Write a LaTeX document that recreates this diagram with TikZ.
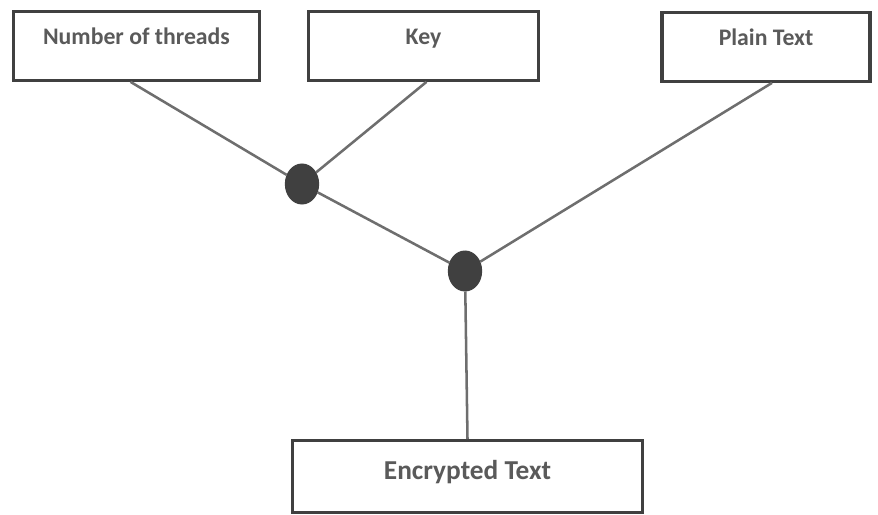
\documentclass[tikz,border=0pt]{standalone}
\usepackage{fontspec}
\setmainfont{Carlito}
\usetikzlibrary{shapes.geometric}
\definecolor{boxline}{RGB}{64,64,64}
\definecolor{wireline}{RGB}{110,110,110}
\definecolor{labeltext}{RGB}{90,90,90}
\tikzset{every picture/.style={line width=0.75pt}}
\tikzset{
	block/.style={draw=boxline, line width=2.4pt, fill=white, inner sep=0pt, anchor=north, text=labeltext, font=\bfseries\fontsize{17.8}{20}\selectfont, text height=25pt, text depth=26.5pt},
	joint/.style={ellipse, fill=boxline, draw=boxline, inner sep=0pt, minimum width=25pt, minimum height=30pt},
	wire/.style={draw=wireline, line width=1.9pt}
}

\begin{document}
\begin{tikzpicture}[x=0.75pt,y=0.75pt,yscale=-1,xscale=1]
	\useasboundingbox (0,0) rectangle (878,514);

	% Input boxes
	\node [block, minimum width=185pt] (threads) at (136.5,10) {Number of threads};
	\node [block, minimum width=173pt] (key) at (423.5,10) {Key};
	\node [block, minimum width=156pt] (plain) at (766,11) {Plain Text};
	% Output box
	\node [block, minimum width=262pt, font=\bfseries\fontsize{20.5}{23}\selectfont, text height=29.5pt, text depth=24.5pt] (cipher) at (467.5,439) {Encrypted Text};

	% Joints
	\node [joint] (j1) at (302,184) {};
	\node [joint] (j2) at (465,271) {};

	% Connectors
	\draw [wire] (threads.south) ++(-6,0) -- (j1);
	\draw [wire] (key.south) ++(3,0) -- (j1);
	\draw [wire] (j1) -- (j2);
	\draw [wire] (plain.south) ++(6,0) -- (j2);
	\draw [wire] (j2) -- (cipher.north);

\end{tikzpicture}
\end{document}
